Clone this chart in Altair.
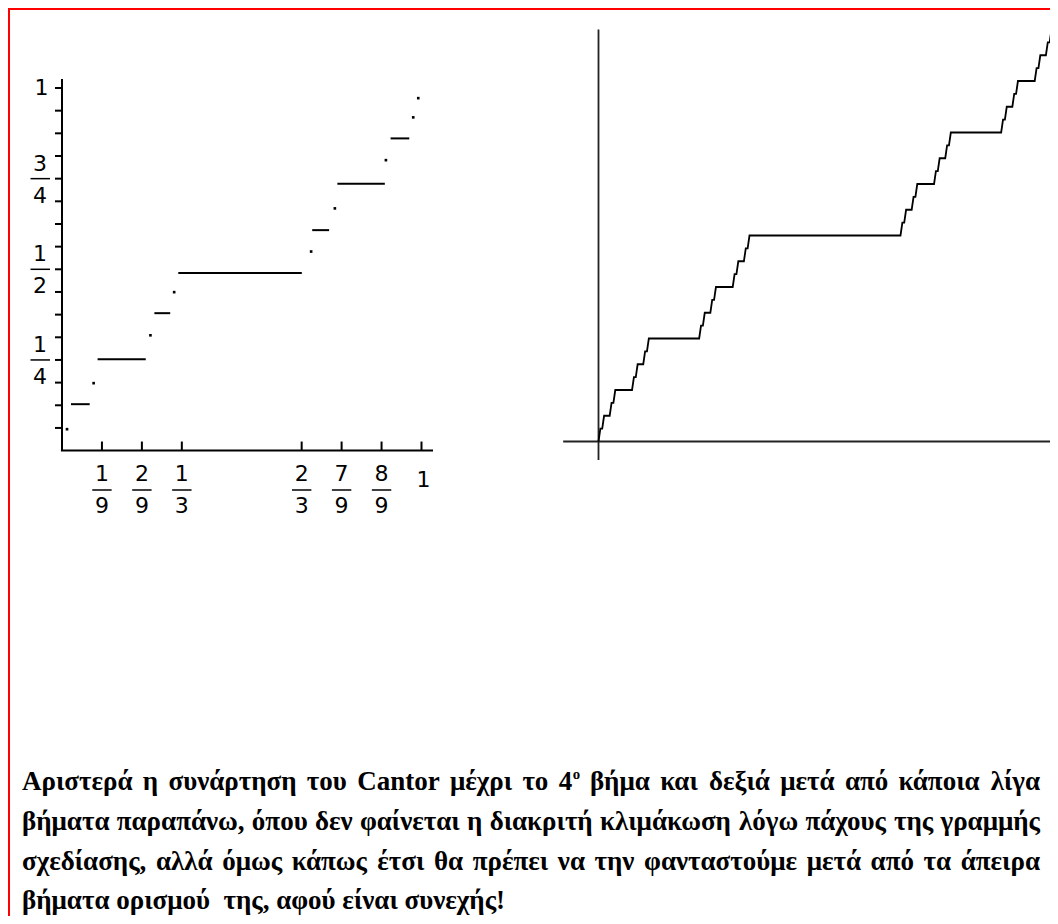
import glob
import struct

import altair as alt
import pandas as pd

# ---------------- data ----------------
# Left panel: the Cantor function after the 4th step
seg_x0 = [0.025, 0.099, 0.257, 0.3235, 0.696, 0.766, 0.914]
seg_x1 = [0.077, 0.233, 0.301, 0.667, 0.743, 0.898, 0.966]
seg_y = [0.128, 0.252, 0.379, 0.490, 0.608, 0.736, 0.861]
dot_x = [0.014, 0.088, 0.246, 0.312, 0.693, 0.759, 0.901, 0.977, 0.991]
dot_y = [0.059, 0.186, 0.318, 0.437, 0.549, 0.668, 0.801, 0.919, 0.972]

x_tick_vals = [1 / 9, 2 / 9, 1 / 3, 2 / 3, 7 / 9, 8 / 9, 1.0]
x_tick_num = ["1", "2", "1", "2", "7", "8", "1"]
x_tick_den = ["9", "9", "3", "3", "9", "9", ""]
y_tick_vals = [0.0625, 0.125, 0.1875, 0.25, 0.3125, 0.375, 0.4375, 0.5,
               0.5625, 0.625, 0.6875, 0.75, 0.8125, 0.875, 0.9375, 1.0]
y_label_vals = [0.25, 0.5, 0.75, 1.0]
y_label_num = ["1", "1", "3", "1"]
y_label_den = ["4", "2", "4", ""]

# Right panel: staircase vertices (x in 243rds, y in 32nds)
stair_x243 = [0, 1, 2, 3, 6, 7, 8, 9, 18, 19, 20, 21, 24, 25, 26, 27, 54,
              55, 56, 57, 60, 61, 62, 63, 72, 73, 74, 75, 78, 79, 80, 81, 162,
              163, 164, 165, 168, 169, 170, 171, 180, 181, 182, 183, 186, 187, 188,
              189, 216, 217, 218, 219, 222, 223, 224, 225, 234, 235, 236, 237, 240,
              241, 242, 243]
stair_y32 = [0, 1, 1, 2, 2, 3, 3, 4, 4, 5, 5, 6, 6, 7, 7, 8, 8,
             9, 9, 10, 10, 11, 11, 12, 12, 13, 13, 14, 14, 15, 15, 16, 16,
             17, 17, 18, 18, 19, 19, 20, 20, 21, 21, 22, 22, 23, 23,
             24, 24, 25, 25, 26, 26, 27, 27, 28, 28, 29, 29, 30, 30,
             31, 31, 32]

caption_lines = [
    "Αριστερά η συνάρτηση του Cantor μέχρι το 4^ο βήμα και δεξιά μετά από κάποια λίγα",
    "βήματα παραπάνω, όπου δεν φαίνεται η διακριτή κλιμάκωση λόγω πάχους της γραμμής",
    "σχεδίασης, αλλά όμως κάπως έτσι θα πρέπει να την φανταστούμε μετά από τα άπειρα",
    "βήματα ορισμού  της, αφού είναι συνεχής!",
]

# ---------------- text measuring (for justified caption) ----------------
def make_measure():
    paths = glob.glob("/usr/share/fonts/**/LiberationSerif-Bold.ttf", recursive=True)
    if not paths:
        return lambda s, size: sum(0.25 if c == " " else 0.5 for c in s) * size
    data = open(paths[0], "rb").read()
    num_tables = struct.unpack(">H", data[4:6])[0]
    tables = {}
    for i in range(num_tables):
        tag, _cs, off, ln = struct.unpack(">4sIII", data[12 + 16 * i:28 + 16 * i])
        tables[tag.decode("latin1")] = off
    upem = struct.unpack(">H", data[tables["head"] + 18:tables["head"] + 20])[0]
    nhm = struct.unpack(">H", data[tables["hhea"] + 34:tables["hhea"] + 36])[0]
    hm = tables["hmtx"]
    adv = [struct.unpack(">H", data[hm + 4 * i:hm + 4 * i + 2])[0] for i in range(nhm)]
    cm = tables["cmap"]
    nsub = struct.unpack(">H", data[cm + 2:cm + 4])[0]
    sub = None
    for i in range(nsub):
        pid, eid, off = struct.unpack(">HHI", data[cm + 4 + 8 * i:cm + 12 + 8 * i])
        if pid == 3 and eid == 1:
            sub = cm + off
    seg2 = struct.unpack(">H", data[sub + 6:sub + 8])[0]
    segc = seg2 // 2
    ends = struct.unpack(">%dH" % segc, data[sub + 14:sub + 14 + seg2])
    starts = struct.unpack(">%dH" % segc, data[sub + 16 + seg2:sub + 16 + 2 * seg2])
    deltas = struct.unpack(">%dh" % segc, data[sub + 16 + 2 * seg2:sub + 16 + 3 * seg2])
    ro = sub + 16 + 3 * seg2
    ros = struct.unpack(">%dH" % segc, data[ro:ro + seg2])

    def gid(c):
        for i in range(segc):
            if ends[i] >= c:
                if starts[i] > c:
                    return 0
                if ros[i] == 0:
                    return (c + deltas[i]) & 0xFFFF
                addr = ro + 2 * i + ros[i] + 2 * (c - starts[i])
                g = struct.unpack(">H", data[addr:addr + 2])[0]
                return (g + deltas[i]) & 0xFFFF if g else 0
        return 0

    def measure(s, size):
        return sum(adv[min(gid(ord(ch)), nhm - 1)] for ch in s) * size / upem

    return measure


measure = make_measure()

CAP_FS = 27
CAP_LEFT, CAP_RIGHT = 22 - 8, 1040 - 8
CAP_BASE = [790 - 8, 830 - 8, 869.5 - 8, 909 - 8]
SUP = 0.55


def tok_width(tok):
    if "^" in tok:
        b, s = tok.split("^")
        return measure(b, CAP_FS) + measure(s, CAP_FS * SUP)
    return measure(tok, CAP_FS)


rows = []
for li, line in enumerate(caption_lines):
    toks = line.split(" ")
    widths = [tok_width(t) for t in toks]
    if li < len(caption_lines) - 1:
        gap = (CAP_RIGHT - CAP_LEFT - sum(widths)) / (len(toks) - 1)
    else:
        gap = measure(" ", CAP_FS)
    x = CAP_LEFT
    for t, w in zip(toks, widths):
        if "^" in t:
            b, s = t.split("^")
            rows.append({"w": b, "px": x, "py": CAP_BASE[li], "fs": CAP_FS})
            rows.append({"w": s, "px": x + measure(b, CAP_FS) + 0.5,
                         "py": CAP_BASE[li] - CAP_FS * 0.42, "fs": CAP_FS * SUP})
        elif t:
            rows.append({"w": t, "px": x, "py": CAP_BASE[li], "fs": CAP_FS})
        x += w + gap
caption_df = pd.DataFrame(rows)

# ---------------- scales (chart coordinates = page - 8) ----------------
LX = alt.Scale(domain=[0, 1], range=[54, 413.5], nice=False, zero=False)
LY = alt.Scale(domain=[0, 1], range=[442.6, 80], nice=False, zero=False)
RX = alt.Scale(domain=[0, 1], range=[590.5, 1043.5], nice=False, zero=False)
RY = alt.Scale(domain=[0, 1], range=[433.5, 21.5], nice=False, zero=False)

DIGIT_FONT = "DejaVu Sans"
DIGIT_FS = 22


def lx(f):
    return alt.X(f, type="quantitative", scale=LX, axis=None)


def ly(f):
    return alt.Y(f, type="quantitative", scale=LY, axis=None)


def rx(f):
    return alt.X(f, type="quantitative", scale=RX, axis=None)


def ry(f):
    return alt.Y(f, type="quantitative", scale=RY, axis=None)


layers = []

# red frame (its right and bottom sides lie outside the picture)
frame = alt.Chart(pd.DataFrame({"a": [0]})).mark_rect(
    fillOpacity=0, stroke="#ff0000", strokeWidth=2
).encode(x=alt.value(1), x2=alt.value(1300), y=alt.value(1), y2=alt.value(1300))
layers.append(frame)

# ---- left panel ----
laxes = pd.DataFrame({"x0": [-0.003, 0.0], "x1": [1.032, 0.0],
                      "y0": [0.0, 0.0], "y1": [0.0, 1.025]})
layers.append(alt.Chart(laxes).mark_rule(color="black", strokeWidth=2).encode(
    x=lx("x0"), x2="x1", y=ly("y0"), y2="y1"))

xt = pd.DataFrame({"x": x_tick_vals, "y0": [0.0] * 7, "y1": [0.025] * 7})
layers.append(alt.Chart(xt).mark_rule(color="black", strokeWidth=2).encode(
    x=lx("x"), y=ly("y0"), y2="y1"))

yt = pd.DataFrame({"y": y_tick_vals, "x0": [-0.0195] * 16, "x1": [0.0] * 16})
layers.append(alt.Chart(yt).mark_rule(color="black", strokeWidth=2).encode(
    x=lx("x0"), x2="x1", y=ly("y")))

seg_df = pd.DataFrame({"x0": seg_x0, "x1": seg_x1, "y": seg_y})
layers.append(alt.Chart(seg_df).mark_rule(color="black", strokeWidth=2, strokeCap="butt").encode(
    x=lx("x0"), x2="x1", y=ly("y")))

dot_df = pd.DataFrame({"x": dot_x, "y": dot_y})
layers.append(alt.Chart(dot_df).mark_square(color="black", size=7, opacity=1).encode(
    x=lx("x"), y=ly("y")))

# x tick labels (fractions)
xl = pd.DataFrame({"x": x_tick_vals, "num": x_tick_num, "den": x_tick_den})
xl_frac = xl[xl["den"] != ""].copy()
xl_frac["xa"] = xl_frac["x"] - 0.027
xl_frac["xb"] = xl_frac["x"] + 0.027
xl_whole = xl[xl["den"] == ""]
layers.append(alt.Chart(xl_frac).mark_text(font=DIGIT_FONT, fontSize=DIGIT_FS, color="black",
                                           baseline="middle", align="center").encode(
    x=lx("x"), y=alt.value(466), text="num:N"))
layers.append(alt.Chart(xl_frac).mark_rule(color="black", strokeWidth=1.5).encode(
    x=lx("xa"), x2="xb", y=alt.value(482)))
layers.append(alt.Chart(xl_frac).mark_text(font=DIGIT_FONT, fontSize=DIGIT_FS, color="black",
                                           baseline="middle", align="center").encode(
    x=lx("x"), y=alt.value(498), text="den:N"))
layers.append(alt.Chart(xl_whole).mark_text(font=DIGIT_FONT, fontSize=DIGIT_FS, color="black",
                                            baseline="middle", align="center", dx=2).encode(
    x=lx("x"), y=alt.value(472), text="num:N"))

# y tick labels (fractions)
yl = pd.DataFrame({"y": y_label_vals, "num": y_label_num, "den": y_label_den})
yl_frac = yl[yl["den"] != ""]
yl_whole = yl[yl["den"] == ""]
layers.append(alt.Chart(yl_frac).mark_text(font=DIGIT_FONT, fontSize=DIGIT_FS, color="black",
                                           baseline="middle", align="center", dy=-15).encode(
    x=alt.value(32), y=ly("y"), text="num:N"))
layers.append(alt.Chart(yl_frac).mark_rule(color="black", strokeWidth=1.5).encode(
    x=alt.value(22.5), x2=alt.value(42), y=ly("y")))
layers.append(alt.Chart(yl_frac).mark_text(font=DIGIT_FONT, fontSize=DIGIT_FS, color="black",
                                           baseline="middle", align="center", dy=17).encode(
    x=alt.value(32), y=ly("y"), text="den:N"))
layers.append(alt.Chart(yl_whole).mark_text(font=DIGIT_FONT, fontSize=DIGIT_FS, color="black",
                                            baseline="middle", align="center").encode(
    x=alt.value(33.5), y=ly("y"), text="num:N"))

# ---- right panel ----
raxes = pd.DataFrame({"x0": [-0.078, 0.0], "x1": [1.003, 0.0],
                      "y0": [0.0, -0.045], "y1": [0.0, 1.0]})
layers.append(alt.Chart(raxes).mark_rule(color="#222222", strokeWidth=1.8).encode(
    x=rx("x0"), x2="x1", y=ry("y0"), y2="y1"))

stair = pd.DataFrame({"i": list(range(len(stair_x243))),
                      "x": [v / 243 for v in stair_x243],
                      "y": [v / 32 for v in stair_y32]})
layers.append(alt.Chart(stair).mark_line(color="black", strokeWidth=1.8).encode(
    x=rx("x"), y=ry("y"), order="i:Q"))

# ---- caption ----
layers.append(alt.Chart(caption_df).mark_text(
    font="Liberation Serif", fontWeight="bold", color="black",
    align="left", baseline="alphabetic").encode(
    x=alt.X("px:Q", scale=None, axis=None),
    y=alt.Y("py:Q", scale=None, axis=None),
    size=alt.Size("fs:Q", scale=None, legend=None),
    text="w:N"))

chart = alt.layer(*layers).resolve_scale(
    x="independent", y="independent", size="independent"
).properties(
    width=1042, height=908,
    autosize=alt.AutoSizeParams(type="none"),
    padding=0,
).configure_view(stroke=None)

chart.save("out.html", embed_options={"renderer": "svg", "actions": False})
